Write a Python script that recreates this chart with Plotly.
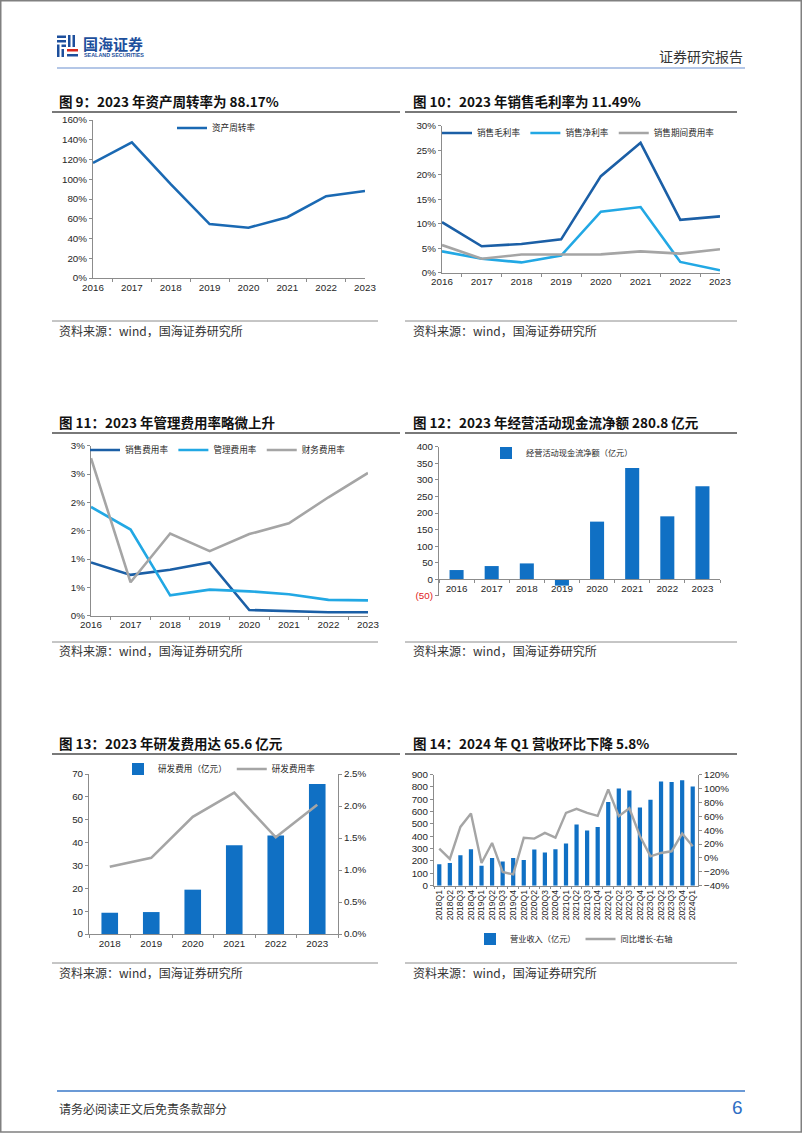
import plotly.graph_objects as go

W, H = 802, 1133


def fx(px):
    return px / W


def fy(py):
    return 1 - py / H


# ---------------- data ----------------
years16 = ['2016', '2017', '2018', '2019', '2020', '2021', '2022', '2023']
asset_turnover = [116.5, 137.4, 95.0, 54.6, 50.9, 61.6, 82.9, 88.17]

gross_margin = [10.3, 5.4, 5.85, 6.8, 19.7, 26.5, 10.8, 11.49]
net_margin = [4.35, 2.86, 2.1, 3.5, 12.45, 13.4, 2.2, 0.5]
period_exp_rate = [5.65, 2.86, 3.7, 3.74, 3.74, 4.35, 3.9, 4.8]

selling_exp_rate = [0.94, 0.72, 0.81, 0.94, 0.10, 0.08, 0.06, 0.06]
admin_exp_rate = [1.92, 1.52, 0.36, 0.46, 0.43, 0.38, 0.28, 0.27]
fin_exp_rate = [2.78, 0.59, 1.45, 1.14, 1.44, 1.63, 2.09, 2.52]

op_cashflow = [28, 40, 48, -19, 174, 336, 190, 280.8]

years18 = ['2018', '2019', '2020', '2021', '2022', '2023']
rd_expense = [9.3, 9.6, 19.4, 38.8, 43.1, 65.6]
rd_rate = [1.05, 1.19, 1.83, 2.21, 1.51, 2.02]

quarters = ['2018Q1', '2018Q2', '2018Q3', '2018Q4', '2019Q1', '2019Q2', '2019Q3', '2019Q4',
            '2020Q1', '2020Q2', '2020Q3', '2020Q4', '2021Q1', '2021Q2', '2021Q3', '2021Q4',
            '2022Q1', '2022Q2', '2022Q3', '2022Q4', '2023Q1', '2023Q2', '2023Q3', '2023Q4',
            '2024Q1']
revenue = [173, 184, 246, 295, 162, 224, 195, 224,
           208, 292, 268, 295, 341, 495, 446, 476,
           678, 786, 770, 632, 695, 843, 840, 854,
           803]
revenue_yoy = [13.4, -1.5, 44.6, 63.8, -7.3, 21.5, -20.3, -23.7,
               28.8, 27.8, 36.0, 29.2, 64.8, 70.6, 64.8, 60.5,
               98.5, 60.0, 71.5, 31.6, 2.3, 7.1, 9.5, 35.0,
               16.7]

titles = ['图 9：2023 年资产周转率为 88.17%',
          '图 10：2023 年销售毛利率为 11.49%',
          '图 11：2023 年管理费用率略微上升',
          '图 12：2023 年经营活动现金流净额 280.8 亿元',
          '图 13：2023 年研发费用达 65.6 亿元',
          '图 14：2024 年 Q1 营收环比下降 5.8%']
source_text = '资料来源：wind，国海证券研究所'

# ---------------- styles ----------------
BLUE = '#1a69b3'
DBLUE = '#1b5fa6'
LBLUE = '#22a8e4'
GRAY = '#a5a5a5'
BAR = '#1070c4'
CJK = 'Noto Sans CJK SC'
NUM = 'Liberation Sans, Arial, sans-serif'
TICKFONT = dict(family=NUM, size=9.8, color='#262626')
LEGFONT = dict(family=CJK, size=8.6, color='#262626')

fig = go.Figure()


def axis_common(**kw):
    d = dict(showline=True, linecolor='#8c8c8c', linewidth=1, ticks='outside',
             tickcolor='#8c8c8c', ticklen=3, tickfont=TICKFONT, showgrid=False,
             zeroline=False, fixedrange=True, automargin=False)
    d.update(kw)
    return d


def xcat(dom, anchor, **kw):
    return axis_common(type='category', domain=[fx(dom[0]), fx(dom[1])], anchor=anchor,
                       tickson='boundaries', **kw)


def ydom(top, bottom):
    return [fy(bottom), fy(top)]


# ---- Chart 9 ----
fig.add_trace(go.Scatter(x=years16, y=asset_turnover, mode='lines', name='资产周转率',
                         line=dict(color=BLUE, width=2.6), xaxis='x', yaxis='y',
                         legend='legend'))
# ---- Chart 10 ----
for name, vals, col in [('销售毛利率', gross_margin, DBLUE), ('销售净利率', net_margin, LBLUE),
                        ('销售期间费用率', period_exp_rate, GRAY)]:
    fig.add_trace(go.Scatter(x=years16, y=vals, mode='lines', name=name,
                             line=dict(color=col, width=2.6), xaxis='x2', yaxis='y2',
                             legend='legend2'))
# ---- Chart 11 ----
for name, vals, col in [('销售费用率', selling_exp_rate, DBLUE), ('管理费用率', admin_exp_rate, LBLUE),
                        ('财务费用率', fin_exp_rate, GRAY)]:
    fig.add_trace(go.Scatter(x=years16, y=vals, mode='lines', name=name,
                             line=dict(color=col, width=2.6), xaxis='x3', yaxis='y3',
                             legend='legend3'))
# ---- Chart 12 ----
fig.add_trace(go.Bar(x=years16, y=op_cashflow, name='经营活动现金流净额（亿元）',
                     marker=dict(color=BAR, line=dict(width=0)), xaxis='x4', yaxis='y4',
                     legend='legend4'))
# ---- Chart 13 ----
fig.add_trace(go.Bar(x=years18, y=rd_expense, name='研发费用（亿元）',
                     marker=dict(color=BAR, line=dict(width=0)), xaxis='x5', yaxis='y5',
                     legend='legend5'))
fig.add_trace(go.Scatter(x=years18, y=rd_rate, mode='lines', name='研发费用率',
                         line=dict(color=GRAY, width=2.6), xaxis='x5', yaxis='y6',
                         legend='legend5'))
# ---- Chart 14 ----
fig.add_trace(go.Bar(x=quarters, y=revenue, name='营业收入（亿元）',
                     marker=dict(color=BAR, line=dict(width=0)), xaxis='x6', yaxis='y7',
                     legend='legend6'))
fig.add_trace(go.Scatter(x=quarters, y=revenue_yoy, mode='lines', name='同比增长-右轴',
                         line=dict(color=GRAY, width=2.4), xaxis='x6', yaxis='y8',
                         legend='legend6'))

# chart 12 x-axis sits on the zero line
y4_dom = ydom(446.7, 595.9)
y4_range = [-50, 400]
x4_pos = y4_dom[0] + (0 - y4_range[0]) / (y4_range[1] - y4_range[0]) * (y4_dom[1] - y4_dom[0])

cf_ticks = list(range(-50, 401, 50))
cf_text = ['<span style="color:#e0201b">(50)</span>' if v < 0 else str(v) for v in cf_ticks]

fig.update_layout(
    template='none',
    width=W, height=H, margin=dict(l=0, r=0, t=0, b=0, pad=0, autoexpand=False),
    paper_bgcolor='white', plot_bgcolor='rgba(0,0,0,0)',
    bargap=0.6, showlegend=True,
    xaxis=xcat((93, 365), 'y'),
    yaxis=axis_common(domain=ydom(120, 278), anchor='x', range=[0, 160], dtick=20,
                      ticksuffix='%'),
    xaxis2=xcat((442, 720), 'y2'),
    yaxis2=axis_common(domain=ydom(125.7, 272.7), anchor='x2', range=[0, 30], dtick=5,
                       ticksuffix='%'),
    xaxis3=xcat((91, 368), 'y3'),
    yaxis3=axis_common(domain=ydom(445.7, 615.7), anchor='x3', range=[0, 3], dtick=0.5,
                       tickformat='.0f', ticksuffix='%'),
    xaxis4=xcat((439, 720), 'free', position=x4_pos),
    yaxis4=axis_common(domain=y4_dom, anchor='x4', range=y4_range, tickvals=cf_ticks,
                       ticktext=cf_text),
    xaxis5=xcat((89, 338), 'y5'),
    yaxis5=axis_common(domain=ydom(774, 934), anchor='x5', range=[0, 70], dtick=10),
    yaxis6=axis_common(overlaying='y5', side='right', anchor='x5', range=[0, 2.5],
                       dtick=0.5, tickformat='.1f', ticksuffix='%'),
    xaxis6=xcat((434, 698), 'y7', tickangle=-90, ticklen=2,
                tickfont=dict(family=NUM, size=8.5, color='#262626')),
    yaxis7=axis_common(domain=ydom(774.5, 885.7), anchor='x6', range=[0, 900], dtick=100),
    yaxis8=axis_common(overlaying='y7', side='right', anchor='x6', range=[-40, 120],
                       dtick=20, tickformat='.0f', ticksuffix='%'),
)

leg_base = dict(bgcolor='rgba(0,0,0,0)', font=LEGFONT, xanchor='left', yanchor='middle',
                orientation='h', borderwidth=0, itemclick=False, itemdoubleclick=False)
fig.update_layout(
    legend=dict(leg_base, x=fx(172), y=fy(128)),
    legend2=dict(leg_base, x=fx(437), y=fy(133)),
    legend3=dict(leg_base, x=fx(85), y=fy(450)),
    legend4=dict(leg_base, x=fx(486), y=fy(453), font=dict(LEGFONT, size=8.2)),
    legend5=dict(leg_base, x=fx(118), y=fy(769)),
    legend6=dict(leg_base, x=fx(470), y=fy(939), font=dict(LEGFONT, size=8.2)),
)

shapes = []
annots = []

# page border
shapes.append(dict(type='rect', xref='paper', yref='paper', x0=fx(0.75), x1=fx(801.25),
                   y0=fy(1132), y1=fy(0.75), line=dict(color='#808080', width=1.5)))

# header
shapes.append(dict(type='line', xref='paper', yref='paper', x0=fx(57), x1=fx(745),
                   y0=fy(68), y1=fy(68), line=dict(color='#b4c7e7', width=2)))
LOGO_BLUE = '#1d4f9c'
LOGO_RED = '#d9261c'
logo_rects = [
    (57, 66, 35.5, 38, LOGO_BLUE), (57, 66, 40, 42.5, LOGO_BLUE),
    (68, 70.5, 35, 47, LOGO_BLUE), (72.5, 75, 35, 47, LOGO_BLUE),
    (57, 59.5, 44.5, 57, LOGO_BLUE), (61.5, 66, 44.5, 47, LOGO_BLUE),
    (61.5, 64, 49, 57, LOGO_BLUE),
    (67, 78, 49, 51.5, LOGO_RED), (67, 78, 54, 56.5, LOGO_BLUE),
]
for x0, x1, y0, y1, c in logo_rects:
    shapes.append(dict(type='rect', xref='paper', yref='paper', x0=fx(x0), x1=fx(x1),
                       y0=fy(y1), y1=fy(y0), line=dict(width=0), fillcolor=c))
annots.append(dict(text='<b>国海证券</b>', x=fx(81), y=fy(44), xanchor='left', yanchor='middle',
                   font=dict(family=CJK, size=15, color=LOGO_BLUE)))
annots.append(dict(text='<b>SEALAND SECURITIES</b>', x=fx(82), y=fy(54.5), xanchor='left',
                   yanchor='middle', font=dict(family=NUM, size=5.4, color=LOGO_BLUE)))
annots.append(dict(text='证券研究报告', x=fx(745), y=fy(56), xanchor='right', yanchor='middle',
                   font=dict(family=CJK, size=14, color='#333333')))

# footer
shapes.append(dict(type='line', xref='paper', yref='paper', x0=fx(57), x1=fx(745),
                   y0=fy(1091), y1=fy(1091), line=dict(color='#3a78c9', width=1.5)))
annots.append(dict(text='请务必阅读正文后免责条款部分', x=fx(57), y=fy(1108), xanchor='left',
                   yanchor='middle', font=dict(family=CJK, size=12, color='#333333')))
annots.append(dict(text='6', x=fx(745), y=fy(1107), xanchor='right', yanchor='middle',
                   font=dict(family=NUM, size=19, color='#2e6ec4')))

# chart titles / separators / sources
col_x = [(52, 400, 57, 378), (405, 737, 411, 737)]
for i, t in enumerate(titles):
    r, c = divmod(i, 2)
    off = 321 * r
    lx0, lx1, tx, sx1 = col_x[c]
    annots.append(dict(text='<b>' + t + '</b>', x=fx(tx), y=fy(101 + off), xanchor='left',
                       yanchor='middle', font=dict(family=CJK, size=13.5, color='#111111')))
    shapes.append(dict(type='line', xref='paper', yref='paper', x0=fx(lx0), x1=fx(lx1),
                       y0=fy(112 + off), y1=fy(112 + off),
                       line=dict(color='#4d4d4d', width=1.5)))
    shapes.append(dict(type='line', xref='paper', yref='paper', x0=fx(lx0), x1=fx(sx1),
                       y0=fy(321 + off), y1=fy(321 + off),
                       line=dict(color='#8c8c8c', width=1)))
    annots.append(dict(text=source_text, x=fx(tx), y=fy(330 + off), xanchor='left',
                       yanchor='middle', font=dict(family=CJK, size=12, color='#333333')))

for a in annots:
    a.update(xref='paper', yref='paper', showarrow=False)

fig.update_layout(shapes=shapes, annotations=annots)

fig.write_html('out.html',
               config={'displayModeBar': False, 'staticPlot': True},
               post_script="document.body.style.margin='0';"
                           "document.documentElement.style.overflow='hidden';")
